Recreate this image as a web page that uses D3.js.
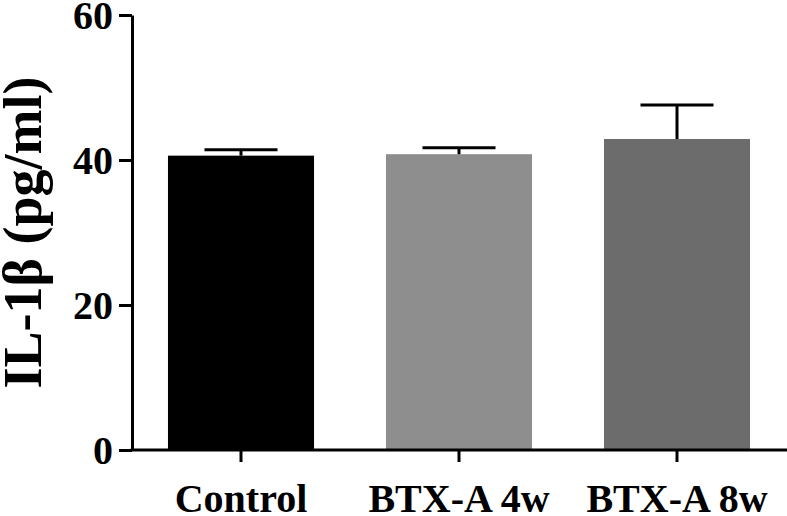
<!DOCTYPE html>
<html>
<head>
<meta charset="utf-8">
<script src="https://cdn.jsdelivr.net/npm/d3@7"></script>
<style>
  body { margin: 0; background: #fff; }
  text { font-family: "Liberation Serif", "Times New Roman", serif; font-weight: bold; fill: #000; }
</style>
</head>
<body>
<div id="chart"></div>
<script>
// data
const groups = ["Control", "BTX-A 4w", "BTX-A 8w"];
const means = [40.6, 40.8, 42.9];
const errors = [0.8, 0.9, 4.7];
const barColors = ["#000000", "#8e8e8e", "#6c6c6c"];
const yTicks = [0, 20, 40, 60];
const yLabel = "IL-1β (pg/ml)";

const width = 787;
const height = 516;

const svg = d3.select("#chart")
  .append("svg")
  .attr("width", width)
  .attr("height", height);

// scales
const y = d3.scaleLinear().domain([0, 60]).range([450, 15]);
const x = d3.scaleBand()
  .domain(groups)
  .range([132, 786])
  .paddingInner(0.33)
  .paddingOuter(0.165);

// bars
svg.append("g")
  .selectAll("rect")
  .data(groups)
  .join("rect")
    .attr("x", d => x(d))
    .attr("y", (d, i) => y(means[i]))
    .attr("width", x.bandwidth())
    .attr("height", (d, i) => y(0) - y(means[i]))
    .attr("fill", (d, i) => barColors[i]);

// error bars (upper half only)
const err = svg.append("g").attr("stroke", "#000").attr("stroke-width", 3);
groups.forEach((g, i) => {
  const cx = x(g) + x.bandwidth() / 2;
  const capHalf = x.bandwidth() / 4;
  err.append("line")
    .attr("x1", cx).attr("x2", cx)
    .attr("y1", y(means[i])).attr("y2", y(means[i] + errors[i]));
  err.append("line")
    .attr("x1", cx - capHalf).attr("x2", cx + capHalf)
    .attr("y1", y(means[i] + errors[i])).attr("y2", y(means[i] + errors[i]));
});

// y axis
const yAxis = svg.append("g")
  .attr("transform", "translate(132,0)")
  .call(d3.axisLeft(y).tickValues(yTicks).tickSize(13).tickSizeOuter(0).tickPadding(6));
yAxis.selectAll("path, line").attr("stroke", "#000").attr("stroke-width", 3);
yAxis.selectAll("text").attr("font-size", 40).attr("dy", "0.34em");

// x axis
const xAxis = svg.append("g")
  .attr("transform", "translate(0,450)")
  .call(d3.axisBottom(x).tickSize(12).tickSizeOuter(0));
xAxis.select(".domain").attr("d", "M130.5,0H787");
xAxis.selectAll("path, line").attr("stroke", "#000").attr("stroke-width", 3);
xAxis.selectAll("text").attr("font-size", 40).attr("y", 62).attr("dy", 0);

// y label
svg.append("text")
  .attr("transform", "translate(41," + (y(30) + 0) + ") rotate(-90)")
  .attr("text-anchor", "middle")
  .attr("font-size", 54)
  .text(yLabel);
</script>
</body>
</html>
